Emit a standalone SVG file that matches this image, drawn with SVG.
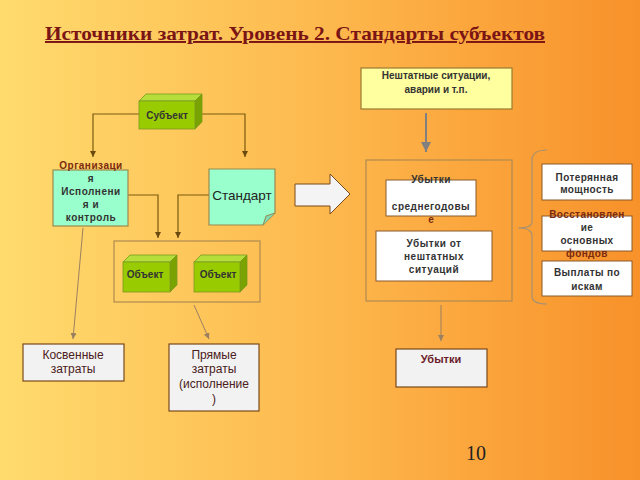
<svg xmlns="http://www.w3.org/2000/svg" width="640" height="480" viewBox="0 0 640 480">
<defs>
<linearGradient id="bg" x1="0" y1="0" x2="1" y2="0">
<stop offset="0" stop-color="#FFDB6E"/>
<stop offset="0.5" stop-color="#FDB94E"/>
<stop offset="1" stop-color="#F8912A"/>
</linearGradient>
<marker id="ab" markerUnits="userSpaceOnUse" markerWidth="8" markerHeight="8" refX="6" refY="3" orient="auto">
<path d="M0,0 L6,3 L0,6 Z" fill="#6b4a10"/>
</marker>
<marker id="ag" markerUnits="userSpaceOnUse" markerWidth="10" markerHeight="10" refX="6" refY="3" orient="auto">
<path d="M0,0 L6,3 L0,6 Z" fill="#9a8060"/>
</marker>
<marker id="agr" markerUnits="userSpaceOnUse" markerWidth="12" markerHeight="12" refX="10" refY="5" orient="auto">
<path d="M0,0 L10,5 L0,10 Z" fill="#808080"/>
</marker>
<style>
.t{font-family:"Liberation Sans",Arial,sans-serif;font-size:10px;font-weight:bold;text-anchor:middle;fill:#333}
.red{fill:#7a2a10}
.box{fill:#FFFFFF;stroke:#8a5a2a;stroke-width:1}
.gbox{fill:#F2F2F2;stroke:#7a4a1a;stroke-width:1.2}
.aq{fill:#99FFCC;stroke:#9a8a50;stroke-width:1.2}
.front{fill:#99CC00;stroke:#7a9a20;stroke-width:0.8}
.top{fill:#B5DE3A;stroke:#7a9a20;stroke-width:0.8}
.side{fill:#79A300;stroke:#7a9a20;stroke-width:0.8}
.grp{fill:none;stroke:#b08a50;stroke-width:1.2}
.cb{fill:none;stroke:#7a5a10;stroke-width:1.2}
.cg{fill:none;stroke:#9a8060;stroke-width:1}
</style>
</defs>
<rect x="0" y="0" width="640" height="480" fill="url(#bg)"/>

<g id="title">
<text x="45" y="40" font-family="Liberation Serif,Times New Roman,serif" font-size="19.5" font-weight="bold" fill="#7B1414" text-decoration="underline" textLength="500" lengthAdjust="spacingAndGlyphs">Источники затрат. Уровень 2. Стандарты субъектов</text>
</g>

<g id="connectors">
<path class="cb" d="M139,114 H93 V157" marker-end="url(#ab)"/>
<path class="cb" d="M202,114 H245 V157" marker-end="url(#ab)"/>
<path class="cb" d="M128,195 H158 V238" marker-end="url(#ab)"/>
<path class="cb" d="M209,195 H178 V238" marker-end="url(#ab)"/>
<path class="cg" d="M83,228 L73,339" marker-end="url(#ag)"/>
<path class="cg" d="M194,305 L209,339" marker-end="url(#ag)"/>
<path d="M426,113 V152" fill="none" stroke="#808080" stroke-width="2" marker-end="url(#agr)"/>
<path class="cg" d="M441,305 V341" marker-end="url(#ag)"/>
<path d="M547,150 Q532,150 532,160 V222 Q532,228 518,228 Q532,228 532,236 V296 Q532,304 547,304" fill="none" stroke="#a89070" stroke-width="1.2"/>
</g>

<g id="subject">
<polygon class="top" points="139,101 146,94 202,94 195,101"/>
<polygon class="side" points="195,101 202,94 202,122 195,129"/>
<rect class="front" x="139" y="101" width="56" height="28"/>
<text class="t" x="167" y="118.5">Субъект</text>
</g>

<g id="organization">
<rect class="aq" x="53" y="170" width="75" height="56"/>
<text class="t red" x="91" y="169" letter-spacing="0.5">Организаци</text>
<text class="t" x="91" y="182" letter-spacing="0.5">я</text>
<text class="t" x="91" y="195" letter-spacing="0.5">Исполнени</text>
<text class="t" x="91" y="208" letter-spacing="0.5">я и</text>
<text class="t" x="91" y="221" letter-spacing="0.5">контроль</text>
</g>

<g id="standard">
<path class="aq" d="M209,169 H275 V213 L263,225 H209 Z"/>
<path d="M263,225 L266,216 L275,213" fill="#7fd8b0" stroke="#9a8a50" stroke-width="1"/>
<text x="242" y="200" font-family="Liberation Sans,Arial,sans-serif" font-size="13.5" text-anchor="middle" fill="#222">Стандарт</text>
</g>

<g id="objects">
<rect class="grp" x="114" y="241" width="146" height="61"/>
<polygon class="top" points="123,262 130,255 177,255 170,262"/>
<polygon class="side" points="170,262 177,255 177,285 170,292"/>
<rect class="front" x="123" y="262" width="47" height="30"/>
<text class="t" x="145" y="278">Объект</text>
<polygon class="top" points="194,262 201,255 247,255 240,262"/>
<polygon class="side" points="240,262 247,255 247,285 240,292"/>
<rect class="front" x="194" y="262" width="46" height="30"/>
<text class="t" x="218" y="278">Объект</text>
</g>

<g id="indirect">
<rect class="gbox" x="23" y="344" width="101" height="37"/>
<text x="73" y="359" font-family="Liberation Sans,Arial,sans-serif" font-size="12" text-anchor="middle" fill="#4a2020">Косвенные</text>
<text x="73" y="373" font-family="Liberation Sans,Arial,sans-serif" font-size="12" text-anchor="middle" fill="#4a2020">затраты</text>
</g>

<g id="direct">
<rect class="gbox" x="169" y="344" width="90" height="67"/>
<text x="214" y="359" font-family="Liberation Sans,Arial,sans-serif" font-size="12" text-anchor="middle" fill="#4a2020">Прямые</text>
<text x="214" y="373" font-family="Liberation Sans,Arial,sans-serif" font-size="12" text-anchor="middle" fill="#4a2020">затраты</text>
<text x="214" y="388" font-family="Liberation Sans,Arial,sans-serif" font-size="12" text-anchor="middle" fill="#4a2020">(исполнение</text>
<text x="214" y="403" font-family="Liberation Sans,Arial,sans-serif" font-size="12" text-anchor="middle" fill="#4a2020">)</text>
</g>

<g id="bigarrow">
<path d="M295,184 H330 V174 L350,194 L330,214 V206 H295 Z" fill="#F4F4F4" stroke="#7a4a1a" stroke-width="1"/>
</g>

<g id="emergency">
<rect x="361" y="68" width="151" height="41" fill="#FFFFA0" stroke="#9a7a30" stroke-width="1.2"/>
<text class="t" x="436" y="79">Нештатные ситуации,</text>
<text class="t" x="436" y="93">аварии и т.п.</text>
</g>

<g id="losses-group">
<rect class="grp" x="366" y="160" width="146" height="141"/>
</g>

<g id="avg-losses">
<rect class="box" x="386" y="180" width="90" height="36"/>
<text class="t" x="431" y="182.5" letter-spacing="0.5">Убытки</text>
<text class="t" x="431" y="209.5" letter-spacing="0.5">среднегодовы</text>
<text class="t red" x="431" y="222.5">е</text>
</g>

<g id="emerg-losses">
<rect class="box" x="376" y="231" width="116" height="50"/>
<text class="t" x="434" y="246.5" letter-spacing="0.5">Убытки от</text>
<text class="t" x="434" y="259.5" letter-spacing="0.5">нештатных</text>
<text class="t" x="434" y="273" letter-spacing="0.5">ситуаций</text>
</g>

<g id="lost-capacity">
<rect class="box" x="542" y="164" width="90" height="36"/>
<text class="t" x="587" y="180.5" letter-spacing="0.4">Потерянная</text>
<text class="t" x="587" y="193" letter-spacing="0.4">мощность</text>
</g>

<g id="restoration">
<rect class="box" x="542" y="216" width="90" height="35"/>
<text class="t red" x="587" y="217.5" letter-spacing="0.4">Восстановлен</text>
<text class="t" x="587" y="230.5" letter-spacing="0.4">ие</text>
<text class="t" x="587" y="243.5" letter-spacing="0.4">основных</text>
<text class="t red" x="587" y="256.5" letter-spacing="0.4">фондов</text>
</g>

<g id="claims">
<rect class="box" x="542" y="261" width="90" height="35"/>
<text class="t" x="587" y="275.5" letter-spacing="0.4">Выплаты по</text>
<text class="t" x="587" y="289.5" letter-spacing="0.4">искам</text>
</g>

<g id="losses">
<rect class="gbox" x="396" y="349" width="91" height="38"/>
<text x="441" y="363" font-family="Liberation Sans,Arial,sans-serif" font-size="11" font-weight="bold" text-anchor="middle" fill="#6B1A2A">Убытки</text>
</g>

<g id="page">
<text x="476" y="460" font-family="Liberation Serif,Times New Roman,serif" font-size="20" text-anchor="middle" fill="#222">10</text>
</g>
</svg>
